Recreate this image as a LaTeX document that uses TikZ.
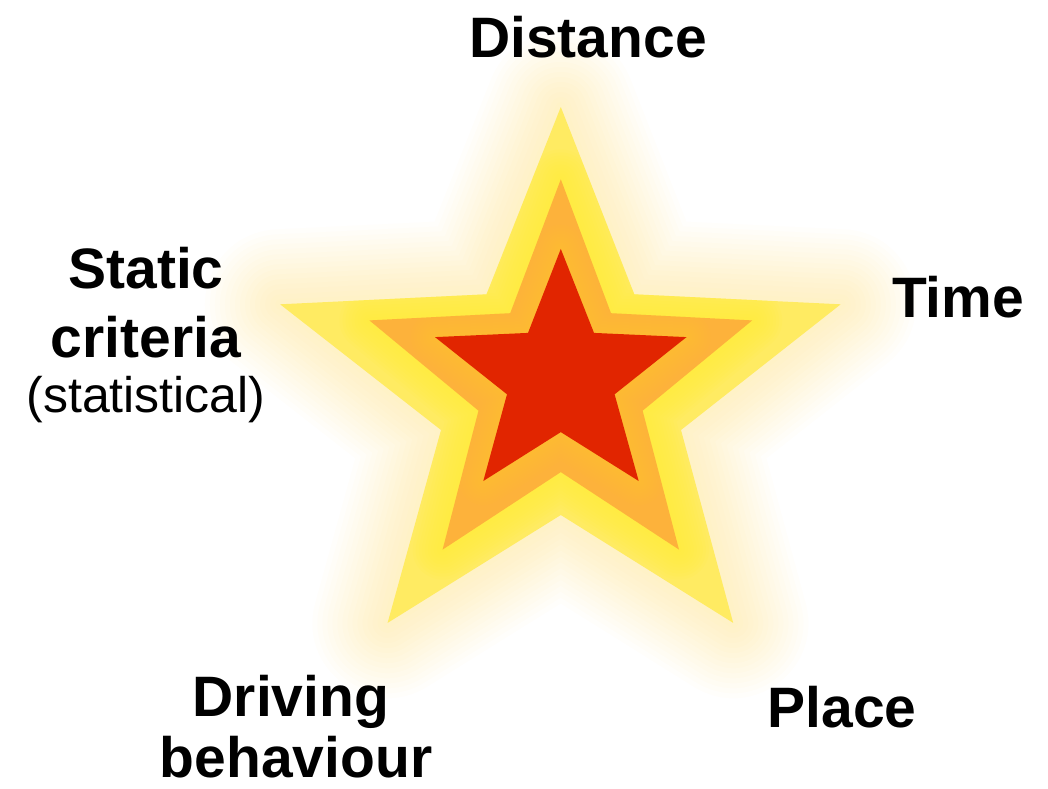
\documentclass[tikz,border=0pt]{standalone}
\usepackage{fontspec}
\setmainfont{Liberation Sans}
\definecolor{outerY}{HTML}{FFEB62}
\definecolor{glowY}{HTML}{FFF23C}
\definecolor{midO}{HTML}{FDB23B}
\definecolor{midG}{HTML}{FFC82E}
\definecolor{innerR}{HTML}{E12500}
\begin{document}
\begin{tikzpicture}[x=1pt,y=-1pt,
  lbl/.style={font=\fontsize{57}{57}\selectfont\bfseries, anchor=base, inner sep=0pt},
  sublbl/.style={font=\fontsize{50}{50}\selectfont, anchor=base, inner sep=0pt}]
\fill[white] (0,0) rectangle (1048,788);
\useasboundingbox (0,0) rectangle (1048,788);
% outer star
\coordinate (o1) at (560.8,107);
\coordinate (o2) at (486.5,294.3);
\coordinate (o3) at (280.1,304.3);
\coordinate (o4) at (441,430);
\coordinate (o5) at (387.6,622.9);
\coordinate (o6) at (560.8,515);
\coordinate (o7) at (733.2,622.9);
\coordinate (o8) at (681,430);
\coordinate (o9) at (840.7,304.3);
\coordinate (o10) at (634.3,294.3);
% middle star
\coordinate (m1) at (560.8,179.3);
\coordinate (m2) at (510.2,313.2);
\coordinate (m3) at (369.4,320.4);
\coordinate (m4) at (478.5,410.7);
\coordinate (m5) at (442.6,549.6);
\coordinate (m6) at (560.8,472.1);
\coordinate (m7) at (679,549.6);
\coordinate (m8) at (642.6,410.7);
\coordinate (m9) at (752.2,320.4);
\coordinate (m10) at (611,313.2);
% inner star
\coordinate (i1) at (560.8,248.9);
\coordinate (i2) at (528,332.9);
\coordinate (i3) at (435,337.1);
\coordinate (i4) at (507,394.3);
\coordinate (i5) at (483.3,481);
\coordinate (i6) at (560.8,432.1);
\coordinate (i7) at (638.7,481);
\coordinate (i8) at (614.6,394.3);
\coordinate (i9) at (686.5,337.1);
\coordinate (i10) at (594,332.9);
% outer glow
\foreach \w in {10,20,...,150}
  \draw[glowY, line width=\w pt, opacity=0.02, line join=round]
    (o1)--(o2)--(o3)--(o4)--(o5)--(o6)--(o7)--(o8)--(o9)--(o10)--cycle;
\fill[outerY] (o1)--(o2)--(o3)--(o4)--(o5)--(o6)--(o7)--(o8)--(o9)--(o10)--cycle;
\begin{scope}
  \clip (o1)--(o2)--(o3)--(o4)--(o5)--(o6)--(o7)--(o8)--(o9)--(o10)--cycle;
  \foreach \w in {6,12,...,60}
    \draw[glowY, line width=\w pt, opacity=0.12, line join=round]
      (m1)--(m2)--(m3)--(m4)--(m5)--(m6)--(m7)--(m8)--(m9)--(m10)--cycle;
\end{scope}
\fill[midO] (m1)--(m2)--(m3)--(m4)--(m5)--(m6)--(m7)--(m8)--(m9)--(m10)--cycle;
\begin{scope}
  \clip (m1)--(m2)--(m3)--(m4)--(m5)--(m6)--(m7)--(m8)--(m9)--(m10)--cycle;
  \foreach \w in {6,12,...,48}
    \draw[midG, line width=\w pt, opacity=0.08, line join=round]
      (i1)--(i2)--(i3)--(i4)--(i5)--(i6)--(i7)--(i8)--(i9)--(i10)--cycle;
\end{scope}
\fill[innerR] (i1)--(i2)--(i3)--(i4)--(i5)--(i6)--(i7)--(i8)--(i9)--(i10)--cycle;
% labels
\node[lbl] (dist) at (588,57) {Distance};
\node[lbl] (time) at (958,317) {Time};
\node[lbl] (stat1) at (146,288) {Static};
\node[lbl] (stat2) at (146,357) {criteria};
\node[sublbl] (stat3) at (146,412) {(statistical)};
\node[lbl] (drive1) at (291,716) {Driving};
\node[lbl] (drive2) at (296,777) {behaviour};
\node[lbl] (place) at (842,727) {Place};
\end{tikzpicture}
\end{document}
